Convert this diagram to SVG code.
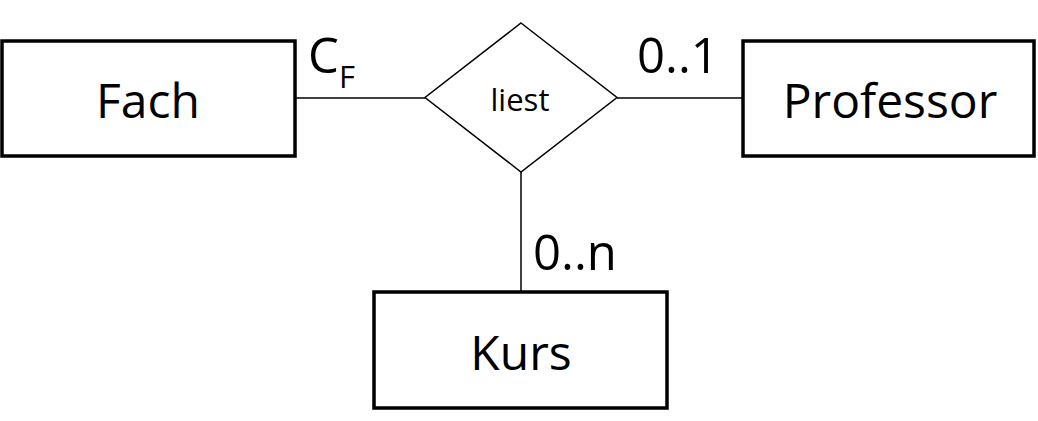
<svg xmlns="http://www.w3.org/2000/svg" width="1038" height="421" viewBox="0 0 1038 421">
<style>
.ent{fill:#fff;stroke:#000;stroke-width:3.5}
.rel{fill:#fff;stroke:#000;stroke-width:1.5}
.con{stroke:#000;stroke-width:1.5;fill:none}
text{font-family:"Open Sans","Liberation Sans",sans-serif;fill:#000}
.big{font-size:48px}
.card{font-size:49px}
</style>
<rect width="1038" height="421" fill="#fff"/>
<g id="connectors">
<line class="con" x1="295" y1="98" x2="425" y2="98"/>
<line class="con" x1="617" y1="98" x2="743" y2="98"/>
<line class="con" x1="521" y1="172" x2="521" y2="292"/>
</g>
<g id="fach">
<rect class="ent" x="2" y="41" width="293" height="115"/>
<text class="big" x="148" y="118" text-anchor="middle">Fach</text>
</g>
<g id="liest">
<polygon class="rel" points="521,23 617,97.5 521,172 425,97.5"/>
<text x="520" y="111" text-anchor="middle" font-size="31">liest</text>
</g>
<g id="professor">
<rect class="ent" x="743" y="41" width="291" height="115"/>
<text class="big" x="890" y="118" text-anchor="middle">Professor</text>
</g>
<g id="kurs">
<rect class="ent" x="374" y="292" width="293" height="116"/>
<text class="big" x="521" y="370" text-anchor="middle">Kurs</text>
</g>
<g id="labels">
<text class="card" x="308" y="73">C<tspan font-size="31" dy="15">F</tspan></text>
<text class="card" x="637" y="73">0..1</text>
<text class="card" x="533" y="270">0..n</text>
</g>
</svg>
